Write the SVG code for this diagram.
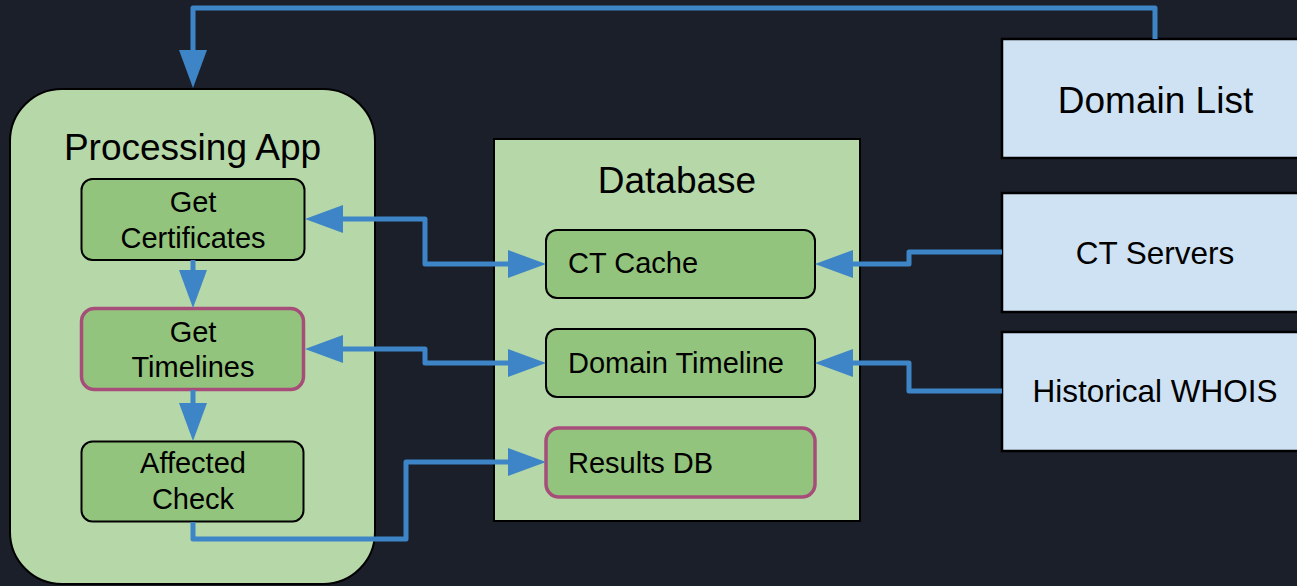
<svg xmlns="http://www.w3.org/2000/svg" width="1297" height="586" viewBox="0 0 1297 586">
<style>
text{font-family:"Liberation Sans",Arial,sans-serif;fill:#000}
.big{font-size:37px}
.mid{font-size:31.5px}
.sm{font-size:29px}
.mc{text-anchor:middle}
.grp{fill:#b6d7a8;stroke:#000;stroke-width:2}
.inner{fill:#93c47d;stroke:#000;stroke-width:2}
.hl{fill:#93c47d;stroke:#a64d79;stroke-width:3.5}
.ext{fill:#cfe2f3;stroke:#000;stroke-width:2.5}
.conn{fill:none;stroke:#3d85c6;stroke-width:5;stroke-linejoin:round}
</style>
<defs>
<marker id="ah" markerUnits="userSpaceOnUse" markerWidth="40" markerHeight="30" refX="0" refY="14" orient="auto-start-reverse" viewBox="0 0 40 30">
<path d="M0,0 L38,14 L0,28 z" fill="#3d85c6"/>
</marker>
</defs>
<rect width="1297" height="586" fill="#1b1f2a"/>

<g id="processing-app">
<rect class="grp" x="10" y="89" width="365" height="495" rx="52"/>
<text class="big mc" x="192.5" y="160">Processing App</text>
</g>
<g id="get-certificates">
<rect class="inner" x="81.5" y="179" width="223" height="81" rx="11"/>
<text class="sm mc" x="193" y="212">Get</text>
<text class="sm mc" x="193" y="248">Certificates</text>
</g>
<g id="get-timelines">
<rect class="hl" x="81.5" y="308.5" width="222" height="81" rx="13"/>
<text class="sm mc" x="193" y="342">Get</text>
<text class="sm mc" x="193" y="377">Timelines</text>
</g>
<g id="affected-check">
<rect class="inner" x="81.5" y="441.5" width="222" height="80" rx="11"/>
<text class="sm mc" x="193" y="473">Affected</text>
<text class="sm mc" x="193" y="509">Check</text>
</g>

<g id="database">
<rect class="grp" x="494" y="139" width="366" height="382"/>
<text class="big mc" x="677" y="193">Database</text>
</g>
<g id="ct-cache">
<rect class="inner" x="546" y="230" width="269" height="68" rx="11"/>
<text class="sm" x="568" y="273">CT Cache</text>
</g>
<g id="domain-timeline">
<rect class="inner" x="546" y="329" width="269" height="68" rx="11"/>
<text class="sm" x="568" y="373">Domain Timeline</text>
</g>
<g id="results-db">
<rect class="hl" x="546" y="428" width="269" height="69" rx="13"/>
<text class="sm" x="568" y="473">Results DB</text>
</g>

<g id="domain-list">
<rect class="ext" x="1002" y="39" width="310" height="119"/>
<text class="big mc" x="1155.5" y="113">Domain List</text>
</g>
<g id="ct-servers">
<rect class="ext" x="1002" y="193" width="310" height="119"/>
<text class="mid mc" x="1155" y="264">CT Servers</text>
</g>
<g id="historical-whois">
<rect class="ext" x="1002" y="332" width="310" height="119"/>
<text class="mid mc" x="1155" y="402">Historical WHOIS</text>
</g>

<g id="connectors">
<path class="conn" d="M1155,39 V8 H193 V50" marker-end="url(#ah)"/>
<path class="conn" d="M193,260 V270" marker-end="url(#ah)"/>
<path class="conn" d="M193,390 V403" marker-end="url(#ah)"/>
<path class="conn" d="M343,219 H425 V264 H508" marker-start="url(#ah)" marker-end="url(#ah)"/>
<path class="conn" d="M343,349 H425 V363 H508" marker-start="url(#ah)" marker-end="url(#ah)"/>
<path class="conn" d="M193,522 V539 H406 V462 H508" marker-end="url(#ah)"/>
<path class="conn" d="M1002,252 H909 V264 H853" marker-end="url(#ah)"/>
<path class="conn" d="M1002,391 H909 V363 H853" marker-end="url(#ah)"/>
</g>
</svg>
